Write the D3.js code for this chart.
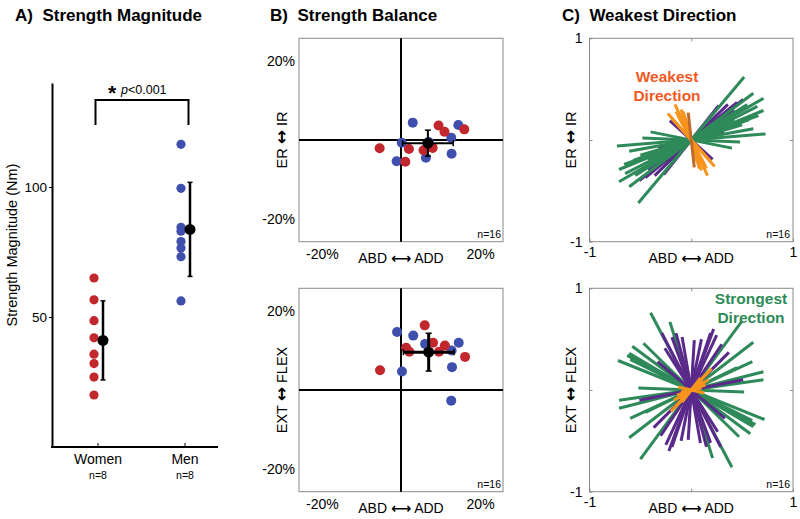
<!DOCTYPE html>
<html><head><meta charset="utf-8">
<script src="https://cdn.jsdelivr.net/npm/d3@7"></script>
<style>body{margin:0;background:#fff;} svg{display:block;font-family:Arial,"Liberation Sans",sans-serif;}</style>
</head><body><svg id="c" width="800" height="519"></svg>
<script>
// ---------- DATA ----------
const groups = ["Women", "Men"];
const groupN = ["n=8", "n=8"];
const womenValues = [65.0, 56.6, 48.6, 42.0, 35.7, 32.1, 26.9, 20.0];
const menValues = [116.4, 99.5, 84.5, 83.0, 79.0, 76.5, 73.2, 56.2];
const groupMeans = [41.0, 83.7];
const groupSD = [15.2, 18.1];
const yTicksA = [50, 100];

const balanceTicks = [-20, 20];
// top: ABD/ADD (x) vs ER/IR (y), bottom: ABD/ADD (x) vs EXT/FLEX (y)
const balTopBlue = [[2.97,4.4],[14.5,3.8],[12.7,0.6],[0.2,-0.7],[6.3,-4.5],[12.8,-3.5],[-1.1,-5.4],[7.0,-0.5]];
const balTopRed = [[9.5,3.7],[11.0,2.1],[16.0,2.7],[-5.4,-2.1],[2.0,-2.3],[5.7,-2.6],[8.0,-2.0],[1.1,-5.5]];
const balTopMean = [6.8, -0.8];
const balTopSD = [6.4, 3.3];
const balBotBlue = [[-1.0,14.7],[3.1,13.8],[6.1,11.7],[14.6,12.0],[12.8,10.0],[12.9,5.8],[0.25,4.7],[12.7,-2.7]];
const balBotRed = [[6.0,16.4],[8.1,12.0],[11.1,11.3],[1.3,10.7],[2.1,9.7],[9.6,9.7],[16.2,8.4],[-5.3,5.0]];
const balBotMean = [7.0, 9.6];
const balBotSD = [6.4, 4.8];

const dirTicks = [-1, 0, 1];
const dirTopGreen = [[0.52,0.62],[0.61,0.46],[0.71,0.41],[0.71,0.29],[0.58,0.23],[0.61,0.11],[0.73,0.06],[0.40,-0.08],[0.48,-0.02],[0.57,0.20],[0.65,0.33],[0.55,0.35],[0.50,0.15],[0.66,0.24],[0.45,0.28],[0.42,0.20]];
const dirTopPurple = [[0.51,0.40],[0.36,0.35],[0.27,0.34],[0.32,0.08],[0.42,0.30],[0.30,0.22],[-0.21,0.19],[0.45,0.37]];
const dirTopOrange = [[-0.16,0.35],[-0.23,0.26],[-0.10,0.30],[-0.19,0.21],[-0.13,0.24],[-0.06,0.22],[-0.08,0.28],[-0.15,0.28]];
const dirTopBrown = [[-0.03,0.27]];
const dirBotGreen = [[-0.40,0.76],[-0.21,0.67],[0.50,0.68],[0.61,0.47],[0.71,0.18],[0.71,0.10],[-0.52,0.02],[-0.72,0.29],[-0.63,0.34],[-0.60,0.30],[-0.47,0.46],[0.60,0.28],[-0.58,0.43],[0.45,0.22],[0.61,-0.36]];
const dirBotPurple = [[0.22,0.60],[0.19,0.56],[0.25,0.54],[-0.09,0.52],[0.03,0.49],[-0.19,0.52],[-0.26,0.41],[0.37,0.37],[0.51,0.10],[-0.33,0.28],[-0.29,0.56],[-0.15,0.56],[0.10,0.50],[0.30,0.45]];
const dirBotOrange = [[0.20,0.21],[0.15,0.16],[0.14,0.05],[0.12,0.08],[0.17,0.10],[0.10,0.02],[0.09,0.12],[0.13,-0.03]];

// ---------- STYLE ----------
const RED = "#c1272d", BLUE = "#3f4fae";
const GREEN = "#2f8a5a", PURPLE = "#5a2a8a", ORANGE = "#f7941d", BROWN = "#c06a2a";
const svg = d3.select("#c");

function title(x, y, t) {
  svg.append("text").attr("x", x).attr("y", y).attr("font-size", 17).attr("font-weight", "bold")
    .style("white-space", "pre").text(t);
}
title(15, 21, "A)  Strength Magnitude");
title(270, 21, "B)  Strength Balance");
title(562, 21, "C)  Weakest Direction");

// label with a heavy arrow glyph in the middle
function arrowLabel(g, a, arrow, b, size, asize) {
  const t = g.append("text").attr("text-anchor", "middle").attr("font-size", size);
  t.append("tspan").text(a + " ");
  t.append("tspan").attr("font-family", "DejaVu Sans").attr("font-weight", "bold").attr("font-size", asize).text(arrow);
  t.append("tspan").text(" " + b);
  return t;
}

// ---------- PANEL A ----------
const yA = d3.scaleLinear().domain([0, 140]).range([447, 83]);
const xA = d3.scalePoint().domain(groups).range([98, 185]);
const gA = svg.append("g");
const axA = gA.append("g").attr("transform", "translate(52,0)")
  .call(d3.axisLeft(yA).tickValues(yTicksA).tickSize(3).tickSizeOuter(0).tickPadding(2));
axA.select(".domain").attr("stroke-width", 2);
axA.selectAll("text").attr("font-size", 13.5).attr("font-family", "Arial,Liberation Sans,sans-serif");
gA.append("line").attr("x1", 51).attr("x2", 218).attr("y1", yA(0)).attr("y2", yA(0)).attr("stroke", "#000").attr("stroke-width", 2);
groups.forEach((g, i) => {
  const x = xA(g);
  gA.append("line").attr("x1", x).attr("x2", x).attr("y1", yA(0)).attr("y2", yA(0) - 4).attr("stroke", "#000").attr("stroke-width", 1);
  gA.append("text").attr("x", x).attr("y", 464).attr("text-anchor", "middle").attr("font-size", 14).text(g);
  gA.append("text").attr("x", x).attr("y", 478.5).attr("text-anchor", "middle").attr("font-size", 10.5).text(groupN[i]);
});
gA.append("text").attr("transform", "translate(17,245) rotate(-90)").attr("text-anchor", "middle")
  .attr("font-size", 14.5).text("Strength Magnitude (Nm)");
[womenValues, menValues].forEach((vals, i) => {
  const col = i === 0 ? RED : BLUE;
  gA.selectAll(null).data(vals).enter().append("circle")
    .attr("cx", xA(groups[i]) - 4).attr("cy", d => yA(d)).attr("r", 4.6).attr("fill", col);
  const ex = xA(groups[i]) + 5;
  const lo = yA(groupMeans[i] - groupSD[i]), hi = yA(groupMeans[i] + groupSD[i]);
  gA.append("line").attr("x1", ex).attr("x2", ex).attr("y1", lo).attr("y2", hi).attr("stroke", "#000").attr("stroke-width", 2.5);
  [lo, hi].forEach(y => gA.append("line").attr("x1", ex - 2.5).attr("x2", ex + 2.5).attr("y1", y).attr("y2", y).attr("stroke", "#000").attr("stroke-width", 1.5));
  gA.append("circle").attr("cx", ex).attr("cy", yA(groupMeans[i])).attr("r", 5.5).attr("fill", "#000");
});
// significance bracket
const bx1 = xA(groups[0]) - 2.5, bx2 = xA(groups[1]) + 3.5;
gA.append("path").attr("d", `M${bx1},125V100H${bx2}V125`).attr("fill", "none").attr("stroke", "#000").attr("stroke-width", 2);
gA.append("text").attr("x", 112).attr("y", 100).attr("text-anchor", "middle").attr("font-size", 21).attr("font-weight", "bold").text("*");
const pt = gA.append("text").attr("x", 121).attr("y", 94).attr("font-size", 12.5);
pt.append("tspan").attr("font-style", "italic").text("p");
pt.append("tspan").text("<0.001");

// ---------- PANEL B ----------
function balancePanel(top, blue, red, mean, sd, ya, yb, thick) {
  const x = d3.scaleLinear().domain([-25.8, 25.8]).range([299, 503]);
  const y = d3.scaleLinear().domain([-25.8, 25.8]).range([top + 203.4, top]);
  const g = svg.append("g");
  g.append("rect").attr("x", 299).attr("y", top).attr("width", 204).attr("height", 203.4)
    .attr("fill", "none").attr("stroke", "#8a8a8a").attr("stroke-width", 1);
  g.append("line").attr("x1", x(0)).attr("x2", x(0)).attr("y1", top).attr("y2", top + 203.4).attr("stroke", "#000").attr("stroke-width", 2);
  g.append("line").attr("x1", 299).attr("x2", 503).attr("y1", y(0)).attr("y2", y(0)).attr("stroke", "#000").attr("stroke-width", 2);
  const ay = g.append("g").attr("transform", "translate(299,0)")
    .call(d3.axisLeft(y).tickValues(balanceTicks).tickSize(0).tickPadding(4).tickFormat(d => d + "%"));
  ay.select(".domain").remove();
  ay.selectAll("text").attr("font-size", 14).attr("font-family", "Arial,Liberation Sans,sans-serif");
  const ax = g.append("g").attr("transform", `translate(0,${top + 203.4})`)
    .call(d3.axisBottom(x).tickValues(balanceTicks).tickSize(0).tickPadding(7).tickFormat(d => d + "%"));
  ax.select(".domain").remove();
  ax.selectAll("text").attr("font-size", 14).attr("font-family", "Arial,Liberation Sans,sans-serif");
  arrowLabel(g, "ABD", "⟷", "ADD", 14, 14).attr("x", x(0)).attr("y", top + 224.5);
  arrowLabel(g, ya, "↔", yb, 14.5, 17).attr("transform", `translate(287,${y(0)}) rotate(-90)`);
  g.append("text").attr("x", 501).attr("y", top + 200).attr("text-anchor", "end").attr("font-size", 10.5).text("n=16");
  g.selectAll(null).data(blue).enter().append("circle").attr("cx", d => x(d[0])).attr("cy", d => y(d[1])).attr("r", 5).attr("fill", BLUE);
  g.selectAll(null).data(red).enter().append("circle").attr("cx", d => x(d[0])).attr("cy", d => y(d[1])).attr("r", 5).attr("fill", RED);
  const mx = x(mean[0]), my = y(mean[1]);
  const xl = x(mean[0] - sd[0]), xr = x(mean[0] + sd[0]);
  const yt = y(mean[1] + sd[1]), ybt = y(mean[1] - sd[1]);
  const L = (x1, y1, x2, y2, w) => g.append("line").attr("x1", x1).attr("y1", y1).attr("x2", x2).attr("y2", y2).attr("stroke", "#000").attr("stroke-width", w);
  L(xl, my, xr, my, thick); L(mx, yt, mx, ybt, thick);
  L(xl, my - 3, xl, my + 3, 1.5); L(xr, my - 3, xr, my + 3, 1.5);
  L(mx - 3, yt, mx + 3, yt, 1.5); L(mx - 3, ybt, mx + 3, ybt, 1.5);
  g.append("circle").attr("cx", mx).attr("cy", my).attr("r", 5.5).attr("fill", "#000");
}
balancePanel(38.3, balTopBlue, balTopRed, balTopMean, balTopSD, "ER", "IR", 2);
balancePanel(288.3, balBotBlue, balBotRed, balBotMean, balBotSD, "EXT", "FLEX", 3);

// ---------- PANEL C ----------
function dirPanel(top, sets, ya, yb) {
  const x = d3.scaleLinear().domain([-1, 1]).range([589.5, 793]);
  const y = d3.scaleLinear().domain([-1, 1]).range([top + 203.4, top]);
  const g = svg.append("g");
  g.append("rect").attr("x", 589.5).attr("y", top).attr("width", 203.5).attr("height", 203.4)
    .attr("fill", "none").attr("stroke", "#8a8a8a").attr("stroke-width", 1);
  const fmt = d => d === 0 ? "" : String(d);
  const ay = g.append("g").attr("transform", "translate(589.5,0)")
    .call(d3.axisLeft(y).tickValues(dirTicks).tickSize(-3).tickPadding(7).tickFormat(fmt));
  ay.select(".domain").remove();
  const ax = g.append("g").attr("transform", `translate(0,${top + 203.4})`)
    .call(d3.axisBottom(x).tickValues(dirTicks).tickSize(-3).tickPadding(5).tickFormat(fmt));
  ax.select(".domain").remove();
  const at = g.append("g").attr("transform", `translate(0,${top})`)
    .call(d3.axisTop(x).tickValues([0]).tickSize(-3).tickFormat(""));
  at.select(".domain").remove();
  const ar = g.append("g").attr("transform", "translate(793,0)")
    .call(d3.axisRight(y).tickValues([0]).tickSize(-3).tickFormat(""));
  ar.select(".domain").remove();
  g.selectAll(".tick line").attr("stroke", "#8a8a8a");
  g.selectAll(".tick text").attr("font-size", 14).attr("font-family", "Arial,Liberation Sans,sans-serif");
  sets.forEach(([data, col]) => {
    g.selectAll(null).data(data).enter().append("line")
      .attr("x1", d => x(-d[0])).attr("y1", d => y(-d[1]))
      .attr("x2", d => x(d[0])).attr("y2", d => y(d[1]))
      .attr("stroke", col).attr("stroke-width", 3);
  });
  arrowLabel(g, "ABD", "⟷", "ADD", 14, 14).attr("x", x(0)).attr("y", top + 224.5);
  arrowLabel(g, ya, "↔", yb, 14.5, 17).attr("transform", `translate(576,${y(0)}) rotate(-90)`);
  g.append("text").attr("x", 790).attr("y", top + 200).attr("text-anchor", "end").attr("font-size", 10.5).text("n=16");
  return g;
}
const cTop = dirPanel(38.3, [[dirTopPurple, PURPLE], [dirTopGreen, GREEN], [dirTopOrange, ORANGE], [dirTopBrown, BROWN]], "ER", "IR");
const cBot = dirPanel(288.3, [[dirBotGreen, GREEN], [dirBotPurple, PURPLE], [dirBotOrange, ORANGE]], "EXT", "FLEX");
[["Weakest", 82], ["Direction", 101]].forEach(([t, yy]) =>
  cTop.append("text").attr("x", 667).attr("y", yy).attr("text-anchor", "middle").attr("font-size", 15.5).attr("font-weight", "bold").attr("fill", "#f15a24").text(t));
[["Strongest", 304], ["Direction", 323]].forEach(([t, yy]) =>
  cBot.append("text").attr("x", 751).attr("y", yy).attr("text-anchor", "middle").attr("font-size", 15.5).attr("font-weight", "bold").attr("fill", "#2e8b57").text(t));
</script></body></html>
